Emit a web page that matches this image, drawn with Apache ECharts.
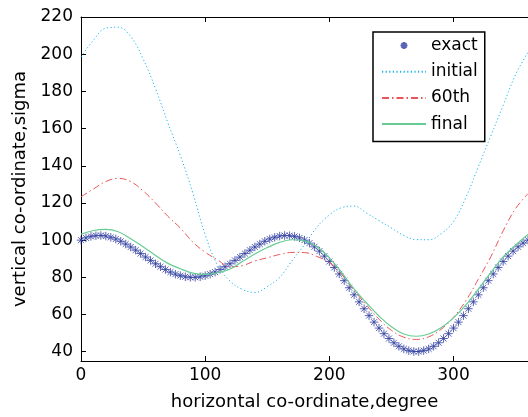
<!DOCTYPE html>
<html>
<head>
<meta charset="utf-8">
<script src="https://cdn.jsdelivr.net/npm/echarts@6/dist/echarts.min.js"></script>
<style>html,body{margin:0;padding:0;background:#fff;}#c{width:528px;height:417px;}</style>
</head>
<body>
<div id="c"></div>
<script>
// ---- data ----
const xTickLabels = [0, 100, 200, 300];
const yTickLabels = [40, 60, 80, 100, 120, 140, 160, 180, 200, 220];

const xExact = [0,4,8,12,16,20,24,28,32,36,40,44,48,52,56,60,64,68,72,76,80,84,88,92,96,100,104,108,112,116,120,124,128,132,136,140,144,148,152,156,160,164,168,172,176,180,184,188,192,196,200,204,208,212,216,220,224,228,232,236,240,244,248,252,256,260,264,268,272,276,280,284,288,292,296,300,304,308,312,316,320,324,328,332,336,340,344,348,352,356,360];
const exact = [100,101.2,102.0,102.4,102.5,102.2,101.5,100.6,99.4,97.9,96.3,94.6,92.8,90.9,89.1,87.3,85.7,84.2,82.8,81.7,80.9,80.3,80.0,80.0,80.3,80.9,81.7,82.8,84.2,85.7,87.3,89.1,90.9,92.8,94.6,96.3,97.9,99.4,100.6,101.5,102.2,102.5,102.4,102.0,101.2,100.0,98.4,96.4,94.1,91.4,88.5,85.3,81.8,78.2,74.4,70.6,66.8,63.1,59.4,55.9,52.7,49.7,47.1,44.8,42.9,41.5,40.6,40.1,40.1,40.6,41.5,42.9,44.8,47.1,49.7,52.7,55.9,59.4,63.1,66.8,70.6,74.4,78.2,81.8,85.3,88.5,91.4,94.1,96.4,98.4,100.0];

const xLines = [0,10,20,30,40,50,60,70,80,90,100,110,120,130,140,150,160,170,180,190,200,210,220,230,240,250,260,270,280,290,300,310,320,330,340,350,360];
const initial = [198.5,207.5,214,214.5,209.5,197.5,181.5,163,145.5,125.5,103,86.5,78,73.5,71.8,75,80,89,97.5,107,113.5,117.5,118.3,114.5,110.5,106.5,102.5,100.3,100.2,103.5,110,123,139.5,156,172.5,189,201];
const iter60 = [123.3,127.5,131.5,133.2,131.5,126.5,120,112.8,106.5,99,93.5,89.4,85.7,86.3,88.8,90.5,92.3,93.4,93.3,91.2,88,81.5,73,65,57.5,51.5,47.8,46.6,48,52,58.5,67.5,79,91,105,117,125];
const finalIt = [103.2,105.2,105.8,104.5,100.8,96.5,91.8,87.5,84.6,82.3,81.6,82.5,84.5,88.5,92.5,96,98.8,100.2,99.6,96.5,90.5,82.5,73.6,66.2,59.2,53.4,49.5,48.3,49.5,52.9,58.2,65.2,73.6,82.5,91,97.3,103];

const seriesNames = ['exact', 'initial', '60th', 'final'];
const xTitle = 'horizontal co-ordinate,degree';
const yTitle = 'vertical co-ordinate,sigma';

// ---- chart ----
const FONT = 'DejaVu Sans';
const asterisk = 'path://M5,0L5,10M0,5L10,5M1.5,1.5L8.5,8.5M1.5,8.5L8.5,1.5';
const pairs = (xs, ys) => xs.map((x, i) => [x, ys[i]]);
const axisLineStyle = { color: '#000', width: 1 };
const noSymbol = { opacity: 0 };

const chart = echarts.init(document.getElementById('c'), null, { renderer: 'canvas' });
chart.setOption({
  animation: false,
  backgroundColor: '#fff',
  textStyle: { fontFamily: FONT },
  grid: { left: 81, top: 17, right: -7, bottom: 56, containLabel: false },
  xAxis: [
    {
      type: 'value', min: 0, max: 360, position: 'bottom',
      axisLine: { show: true, onZero: false, lineStyle: axisLineStyle },
      axisTick: { show: true, inside: true, length: 5, customValues: xTickLabels, lineStyle: axisLineStyle },
      axisLabel: { customValues: xTickLabels, color: '#000', fontSize: 17, fontFamily: FONT, margin: 6 },
      splitLine: { show: false },
      name: xTitle, nameLocation: 'middle', nameGap: 32,
      nameTextStyle: { color: '#000', fontSize: 18, fontFamily: FONT }
    },
    {
      type: 'value', min: 0, max: 360, position: 'top',
      axisLine: { show: true, onZero: false, lineStyle: axisLineStyle },
      axisTick: { show: true, inside: true, length: 5, customValues: [100, 200, 300], lineStyle: axisLineStyle },
      axisLabel: { show: false },
      splitLine: { show: false }
    }
  ],
  yAxis: [
    {
      type: 'value', min: 35, max: 220,
      axisLine: { show: true, onZero: false, lineStyle: axisLineStyle },
      axisTick: { show: true, inside: true, length: 5, customValues: yTickLabels, lineStyle: axisLineStyle },
      axisLabel: { customValues: yTickLabels, color: '#000', fontSize: 17, fontFamily: FONT, margin: 8 },
      splitLine: { show: false },
      name: yTitle, nameLocation: 'middle', nameGap: 50,
      nameTextStyle: { color: '#000', fontSize: 18, fontFamily: FONT }
    }
  ],
  legend: {
    orient: 'vertical', left: 373, top: 32,
    padding: [5, 7, 9, 8],
    itemWidth: 44, itemHeight: 7, itemGap: 9.2,
    borderColor: '#000', borderWidth: 1.5,
    backgroundColor: '#fff',
    textStyle: { color: '#000', fontSize: 17, fontFamily: FONT },
    data: [
      { name: seriesNames[0] },
      { name: seriesNames[1], itemStyle: noSymbol },
      { name: seriesNames[2], itemStyle: noSymbol },
      { name: seriesNames[3], itemStyle: noSymbol }
    ]
  },
  series: [
    {
      name: seriesNames[0], type: 'scatter', data: pairs(xExact, exact),
      symbol: asterisk, symbolSize: 8.5,
      itemStyle: { color: 'rgba(0,0,0,0)', borderColor: '#2E3DA0', borderWidth: 1, opacity: 0.8 },
      z: 2
    },
    {
      name: seriesNames[1], type: 'line', data: pairs(xLines, initial),
      symbol: 'none', smooth: 0.4,
      itemStyle: { color: '#19B5EE' },
      lineStyle: { color: '#19B5EE', width: 1, type: [1.2, 2.4] },
      z: 3
    },
    {
      name: seriesNames[2], type: 'line', data: pairs(xLines, iter60),
      symbol: 'none', smooth: 0.4,
      itemStyle: { color: '#EB5555' },
      lineStyle: { color: '#EB5555', width: 1, type: [7, 3, 1.5, 3] },
      z: 3
    },
    {
      name: seriesNames[3], type: 'line', data: pairs(xLines, finalIt),
      symbol: 'none', smooth: 0.4,
      itemStyle: { color: '#66CC94' },
      lineStyle: { color: '#66CC94', width: 1.2 },
      z: 3
    }
  ]
});
</script>
</body>
</html>
